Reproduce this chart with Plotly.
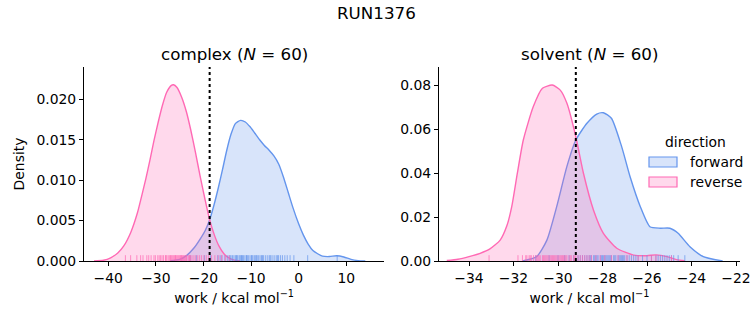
import plotly.graph_objects as go

W, H = 753, 325

# ---------------- data ----------------
directions = ["forward", "reverse"]
colors = {"forward": "#6495ED", "reverse": "#FF69B4"}
fills = {"forward": "rgba(100,149,237,0.25)", "reverse": "rgba(255,105,180,0.25)"}

# complex leg: KDE curves
complex_rev_x = [-43, -41, -39.5, -38, -36.7, -35.3, -33.9, -33, -32.1, -31.2, -30.4, -29.5, -28.6,
                 -27.7, -26.8, -26.3, -25.6, -24.6, -23.6, -22.7, -21.7, -20.7, -19.7, -18.7, -17.7,
                 -16.7, -15.7, -14.7, -13.5, -12.3]
complex_rev_d = [0.00002, 0.0001, 0.0004, 0.0010, 0.0019, 0.0035, 0.0059, 0.0080, 0.0102, 0.0126,
                 0.0149, 0.0172, 0.0193, 0.0209, 0.0217, 0.0218, 0.0215, 0.0203, 0.0185, 0.0163,
                 0.0135, 0.0105, 0.0077, 0.0051, 0.0032, 0.0018, 0.0009, 0.0004, 0.0001, 0.0]
complex_fwd_x = [-27, -25, -23.5, -22, -20.6, -19.6, -18.7, -17.8, -16.9, -16, -15.1, -14.2, -13.3,
                 -12.2, -11.2, -10.2, -9.2, -8.2, -7.2, -6.2, -5.2, -4.2, -3.2, -2.2, -1.2, 0, 1, 2,
                 3, 4, 5, 6.5, 8, 9.5, 11, 12.5, 14]
complex_fwd_d = [0.00003, 0.0002, 0.0007, 0.0016, 0.0028, 0.0038, 0.0051, 0.0069, 0.0090, 0.0113,
                 0.0137, 0.0157, 0.0170, 0.0174, 0.0172, 0.0166, 0.0158, 0.0150, 0.0143, 0.0137,
                 0.0130, 0.0120, 0.0104, 0.0085, 0.0066, 0.0046, 0.0032, 0.0021, 0.0013, 0.0009,
                 0.0006, 0.00055, 0.00065, 0.0005, 0.0002, 0.00005, 0.0]

# solvent leg: KDE curves
solvent_rev_x = [-35.0, -34.5, -34.0, -33.5, -33.06, -32.6, -32.3, -32.08, -31.83, -31.56, -31.11,
                 -30.7, -30.26, -29.9, -29.6, -29.2, -28.86, -28.4, -27.96, -27.36, -26.6, -26.0,
                 -25.6, -25.1, -24.67, -24.3]
solvent_rev_d = [0.0002, 0.0008, 0.0020, 0.0035, 0.0055, 0.0095, 0.016, 0.0247, 0.0398, 0.0550,
                 0.0702, 0.0785, 0.0800, 0.0777, 0.0717, 0.0565, 0.040, 0.023, 0.0126, 0.0058,
                 0.0027, 0.0024, 0.0028, 0.0020, 0.0006, 0.0001]
solvent_fwd_x = [-31.6, -30.96, -30.5, -30.06, -29.6, -29.2, -28.7, -28.26, -27.96, -27.6, -27.14,
                 -26.76, -26.3, -25.87, -25.4, -24.97, -24.6, -24.07, -23.47, -22.6]
solvent_fwd_d = [0.0, 0.002, 0.0095, 0.0247, 0.043, 0.055, 0.0626, 0.0668, 0.0674, 0.0649, 0.052,
                 0.0383, 0.0247, 0.0156, 0.0149, 0.0149, 0.0126, 0.0065, 0.002, 0.0]

# rug samples (work values, kcal/mol)
complex_rev_w = [-36.4, -35.3, -34.0, -33.2, -32.7, -31.9, -31.5, -31.0, -30.4, -29.6, -29.3, -29.0,
                 -28.7, -28.4, -28.0, -27.7, -27.4, -27.1, -26.9, -26.6, -26.4, -26.2, -26.0, -25.8,
                 -25.6, -25.4, -25.2, -25.0, -24.8, -24.6, -24.4, -24.2, -24.0, -23.8, -23.5, -23.2,
                 -23.0, -22.7, -22.4, -22.0, -21.6, -21.2, -20.8, -20.4, -19.9, -19.4, -18.9, -18.3,
                 -17.6, -16.9, -16.2, -15.4, -14.6, -27.9, -26.8, -25.9, -24.7, -23.6, -22.9, -30.1]
complex_fwd_w = [-22.8, -21.5, -19.8, -18.5, -17.0, -16.1, -15.5, -15.0, -14.6, -14.2, -13.9, -13.6,
                 -13.3, -13.0, -12.8, -12.5, -12.3, -12.0, -11.8, -11.6, -11.3, -11.0, -10.8, -10.5,
                 -10.2, -9.9, -9.6, -9.3, -9.0, -8.7, -8.4, -8.1, -7.8, -7.4, -7.0, -6.6, -6.2, -5.8,
                 -5.4, -5.0, -4.6, -4.2, -3.8, -3.4, -2.9, -2.4, -1.8, -1.0, 1.9, 8.1, -14.4, -13.1,
                 -12.1, -10.9, -9.8, -8.9, -7.6, -6.0, -4.4, -16.5]
solvent_rev_w = [-33.1, -31.8, -31.6, -31.4, -31.3, -31.2, -31.1, -31.0, -30.9, -30.8, -30.7, -30.6,
                 -30.5, -30.45, -30.4, -30.3, -30.25, -30.2, -30.1, -30.0, -29.95, -29.9, -29.8,
                 -29.7, -29.6, -29.5, -29.4, -29.3, -29.2, -29.1, -29.0, -28.9, -28.8, -28.7, -28.5,
                 -28.3, -28.1, -27.9, -27.6, -27.3, -26.9, -26.4, -25.8, -25.6, -24.9, -30.65,
                 -30.35, -30.15, -29.85, -29.65, -29.45, -30.55, -30.05, -29.75, -31.45, -30.95,
                 -28.6, -29.25, -30.85, -31.25]
solvent_fwd_w = [-31.0, -30.4, -30.0, -29.7, -29.5, -29.3, -29.1, -28.9, -28.8, -28.7, -28.6, -28.5,
                 -28.4, -28.3, -28.2, -28.1, -28.0, -27.95, -27.9, -27.8, -27.7, -27.6, -27.5, -27.4,
                 -27.3, -27.2, -27.1, -27.0, -26.9, -26.8, -26.6, -26.4, -26.2, -26.0, -25.8, -25.6,
                 -25.4, -25.2, -25.0, -24.8, -24.6, -24.3, -28.55, -28.25, -28.05, -27.85, -27.65,
                 -27.45, -27.25, -27.05, -26.7, -26.5, -25.5, -25.3, -25.1, -24.9, -29.0, -28.35,
                 -27.75, -27.15]

# dotted reference lines (free energy estimate)
complex_line = -18.7
solvent_line = -29.2

panels = [
    dict(name="complex", n=60, xr=[-45.1, 18.0], yr=[0, 0.024], xt=[-40, -30, -20, -10, 0, 10],
         yt=[0.0, 0.005, 0.010, 0.015, 0.020], yfmt=".3f", line=complex_line,
         curves={"forward": (complex_fwd_x, complex_fwd_d), "reverse": (complex_rev_x, complex_rev_d)},
         rug={"forward": complex_fwd_w, "reverse": complex_rev_w}),
    dict(name="solvent", n=60, xr=[-35.35, -21.82], yr=[0, 0.0882], xt=[-34, -32, -30, -28, -26, -24, -22],
         yt=[0.0, 0.02, 0.04, 0.06, 0.08], yfmt=".2f", line=solvent_line,
         curves={"forward": (solvent_fwd_x, solvent_fwd_d), "reverse": (solvent_rev_x, solvent_rev_d)},
         rug={"forward": solvent_fwd_w, "reverse": solvent_rev_w}),
]

# ---------------- layout geometry ----------------
xdoms = [[84 / W, 384.3 / W], [439 / W, 740 / W]]
ydom = [(H - 261) / H, (H - 67) / H]
FONT = "DejaVu Sans"
FS = 13.9
TS = 16.7

fig = go.Figure()
shapes = []
annotations = []

for i, p in enumerate(panels):
    ax = "" if i == 0 else str(i + 1)
    xa, ya = "x" + ax, "y" + ax
    for d in directions:
        xs, ds = p["curves"][d]
        fig.add_trace(go.Scatter(x=xs, y=ds, mode="lines", line=dict(color=colors[d], width=1.4, shape="spline", smoothing=0.6),
                                 fill="tozeroy", fillcolor=fills[d], xaxis=xa, yaxis=ya, showlegend=False))
    for d in directions:
        for w in p["rug"][d]:
            shapes.append(dict(type="line", xref=xa, yref=ya + " domain", x0=w, x1=w, y0=0, y1=0.03,
                               line=dict(color=colors[d], width=1), opacity=0.7, layer="above"))
    shapes.append(dict(type="line", xref=xa, yref=ya + " domain", x0=p["line"], x1=p["line"], y0=0, y1=1,
                       line=dict(color="black", width=2, dash="dot"), layer="above"))
    annotations.append(dict(text=f"{p['name']} (<i>N</i> = {p['n']})", xref=xa + " domain", yref="paper",
                            x=0.5, y=(H - 54) / H, xanchor="center", yanchor="middle", showarrow=False,
                            font=dict(size=TS, color="black", family=FONT)))
    common = dict(showline=True, linecolor="black", linewidth=1, ticks="outside", ticklen=4, tickwidth=1,
                  tickcolor="black", showgrid=False, zeroline=False, automargin=False,
                  tickfont=dict(size=FS, color="black", family=FONT))
    yaxis = dict(domain=ydom, range=p["yr"], tickvals=p["yt"], tickformat=p["yfmt"], anchor=xa, **common)
    if i == 0:
        yaxis["title"] = dict(text="Density", font=dict(size=FS, color="black", family=FONT), standoff=8)
    fig.update_layout(**{
        "xaxis" + ax: dict(domain=xdoms[i], range=p["xr"], tickvals=p["xt"], anchor=ya,
                           title=dict(text="work / kcal mol<sup>−1</sup>", font=dict(size=FS, color="black", family=FONT), standoff=8),
                           **common),
        "yaxis" + ax: yaxis,
    })

# suptitle
annotations.append(dict(text="RUN1376", xref="paper", yref="paper", x=0.5, y=(H - 13) / H, xanchor="center",
                        yanchor="middle", showarrow=False, font=dict(size=TS, color="black", family=FONT)))

# legend (drawn with shapes + text)
annotations.append(dict(text="direction", xref="paper", yref="paper", x=695 / W, y=(H - 142) / H,
                        xanchor="center", yanchor="middle", showarrow=False, font=dict(size=FS, color="black", family=FONT)))
for k, d in enumerate(directions):
    yc = 162 + 20 * k
    shapes.append(dict(type="rect", xref="paper", yref="paper", x0=649 / W, x1=677 / W,
                       y0=(H - yc - 5) / H, y1=(H - yc + 5) / H, fillcolor=fills[d],
                       line=dict(color=colors[d], width=1.2)))
    annotations.append(dict(text=d, xref="paper", yref="paper", x=688 / W, y=(H - yc) / H, xanchor="left",
                            yanchor="middle", showarrow=False, font=dict(size=FS, color="black", family=FONT)))

fig.update_layout(width=W, height=H, margin=dict(l=0, r=0, t=0, b=0), plot_bgcolor="white", paper_bgcolor="white",
                  shapes=shapes, annotations=annotations, showlegend=False, font=dict(family=FONT, color="black"))

fig.write_html("out.html")
